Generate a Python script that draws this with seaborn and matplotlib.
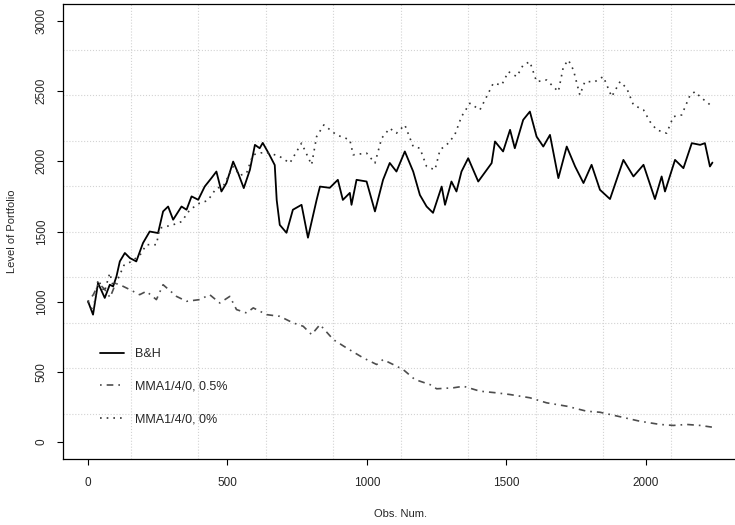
import matplotlib

matplotlib.use("Agg")
import matplotlib.pyplot as plt
import numpy as np
import pandas as pd
import seaborn as sns

# buy & hold portfolio level
bh_obs = [1, 19, 37, 61, 79, 91, 103, 115, 133, 151, 174, 198, 222, 252, 270, 288, 306, 336,
          354, 372, 396, 419, 443, 461, 479, 497, 521, 539, 559, 581, 599, 616, 627, 650, 670,
          677, 688, 712, 735, 766, 789, 820, 832, 867, 896, 914, 939, 945, 963, 999, 1029,
          1058, 1082, 1106, 1136, 1166, 1190, 1214, 1237, 1268, 1280, 1303, 1321, 1339, 1363,
          1399, 1447, 1459, 1488, 1513, 1530, 1560, 1584, 1608, 1632, 1656, 1686, 1716, 1746,
          1776, 1805, 1835, 1871, 1919, 1955, 1991, 2032, 2056, 2068, 2104, 2134, 2164, 2194,
          2211, 2229, 2238]
bh_val = [1003, 908, 1133, 1027, 1121, 1109, 1180, 1287, 1347, 1311, 1287, 1418, 1500, 1489,
          1643, 1678, 1584, 1678, 1655, 1750, 1726, 1820, 1880, 1927, 1785, 1845, 1998, 1915,
          1809, 1939, 2117, 2093, 2131, 2050, 1973, 1724, 1547, 1491, 1655, 1690, 1456, 1725,
          1820, 1811, 1868, 1725, 1775, 1690, 1868, 1856, 1643, 1868, 1988, 1927, 2070, 1927,
          1760, 1678, 1633, 1820, 1690, 1856, 1785, 1927, 2022, 1856, 1987, 2141, 2070, 2224,
          2093, 2295, 2354, 2176, 2105, 2188, 1880, 2105, 1963, 1845, 1975, 1797, 1731, 2010,
          1892, 1975, 1731, 1892, 1785, 2010, 1951, 2129, 2117, 2129, 1963, 1991]

# MMA1/4/0 with 0.5% costs
mma05_obs = [1, 20, 40, 60, 80, 100, 115, 151, 186, 210, 246, 270, 318, 354, 401, 437, 473,
             509, 533, 569, 593, 641, 688, 736, 772, 802, 832, 880, 927, 987, 1035, 1058, 1094,
             1130, 1172, 1226, 1250, 1310, 1346, 1405, 1465, 1513, 1584, 1644, 1716, 1788, 1835,
             1907, 1978, 2050, 2098, 2146, 2194, 2236]
mma05_val = [1000, 1050, 1130, 1090, 1030, 1130, 1121, 1086, 1050, 1074, 1015, 1121, 1038,
             1003, 1015, 1050, 991, 1038, 944, 920, 956, 908, 896, 849, 825, 766, 837, 730, 671,
             600, 553, 588, 553, 517, 446, 410, 380, 387, 398, 363, 351, 339, 316, 280, 256, 220,
             213, 181, 149, 126, 119, 126, 119, 107]

# MMA1/4/0 without costs
mma0_obs = [1, 19, 37, 60, 79, 91, 110, 130, 160, 190, 210, 246, 258, 306, 336, 366, 401, 430,
            461, 485, 521, 545, 569, 592, 620, 652, 688, 724, 766, 802, 820, 846, 891, 939, 951,
            999, 1029, 1053, 1082, 1106, 1136, 1166, 1190, 1214, 1244, 1262, 1292, 1315, 1339,
            1369, 1405, 1429, 1453, 1483, 1507, 1537, 1560, 1584, 1608, 1644, 1686, 1704, 1722,
            1740, 1763, 1781, 1817, 1847, 1877, 1907, 1931, 1955, 1991, 2014, 2038, 2074, 2098,
            2128, 2158, 2176, 2199, 2217, 2236]
mma0_val = [1000, 930, 1157, 1070, 1204, 1109, 1170, 1260, 1290, 1340, 1406, 1406, 1524, 1548,
            1570, 1655, 1702, 1720, 1809, 1820, 1963, 1900, 1915, 2046, 2060, 2058, 2034, 1987,
            2129, 1975, 2176, 2259, 2188, 2153, 2046, 2058, 1987, 2164, 2235, 2200, 2259, 2105,
            2093, 1963, 1939, 2081, 2129, 2188, 2318, 2413, 2366, 2460, 2556, 2543, 2638, 2603,
            2686, 2709, 2567, 2579, 2496, 2674, 2721, 2650, 2472, 2567, 2567, 2603, 2460, 2567,
            2520, 2401, 2366, 2283, 2224, 2200, 2318, 2330, 2472, 2496, 2449, 2425, 2389]

labels = ["B&H", "MMA1/4/0, 0.5%", "MMA1/4/0, 0%"]
x_ticks = [0, 500, 1000, 1500, 2000]
y_ticks = [0, 500, 1000, 1500, 2000, 2500, 3000]

sns.set_style("white")
plt.rcParams["font.family"] = ["Liberation Sans", "DejaVu Sans"]

fig = plt.figure(figsize=(7.35, 5.25), dpi=100)
ax = fig.add_axes([63 / 735, 66 / 525, 675 / 735, 455 / 525])

bh = pd.DataFrame({"obs": bh_obs, "level": bh_val})
m05 = pd.DataFrame({"obs": mma05_obs, "level": mma05_val})
m0 = pd.DataFrame({"obs": mma0_obs, "level": mma0_val})

sns.lineplot(data=bh, x="obs", y="level", ax=ax, color="black", lw=1.3,
             estimator=None, label=labels[0])
sns.lineplot(data=m05, x="obs", y="level", ax=ax, color="#4d4d4d", lw=1.2,
             estimator=None, label=labels[1])
sns.lineplot(data=m0, x="obs", y="level", ax=ax, color="#333333", lw=1.2,
             estimator=None, label=labels[2])
ax.lines[1].set_dashes([1, 3, 4, 3])
ax.lines[2].set_dashes([1, 3])

# R style limits: data range padded by 4%
xmin, xmax = 1 - 0.04 * 2239, 2240 + 0.04 * 2239
ymin, ymax = -120, 3120
ax.set_xlim(xmin, xmax)
ax.set_ylim(ymin, ymax)

# grid(10, 10): lines split the plot region evenly, not at the ticks
for gx in np.linspace(xmin, xmax, 11)[1:-1]:
    ax.axvline(gx, color="lightgray", ls=":", lw=0.8, zorder=0)
for gy in np.linspace(ymin, ymax, 11)[1:-1]:
    ax.axhline(gy, color="lightgray", ls=":", lw=0.8, zorder=0)

ax.set_xticks(x_ticks)
ax.set_yticks(y_ticks)
ax.set_xticklabels([str(v) for v in x_ticks], fontsize=8.5)
ax.set_yticklabels([str(v) for v in y_ticks], fontsize=8.5, rotation=90, va="center")
ax.tick_params(axis="both", direction="out", length=4, width=0.8, color="black",
               bottom=True, left=True)
ax.tick_params(axis="x", pad=9)
ax.tick_params(axis="y", pad=7)

for side in ["left", "bottom", "top"]:
    ax.spines[side].set_color("black")
    ax.spines[side].set_linewidth(0.9)
# the box's right side falls just past the picture edge
ax.spines["right"].set_visible(False)

ax.set_xlabel("Obs. Num.", fontsize=8)
ax.set_ylabel("Level of Portfolio", fontsize=8)
ax.xaxis.set_label_coords(0.5, -55 / 455)
ax.yaxis.set_label_coords(-51 / 675, 0.5)
ax.xaxis.label.set_va("center")
ax.yaxis.label.set_va("center")

ax.legend(loc="upper left", bbox_to_anchor=(37 / 675, 111 / 455), frameon=False,
          fontsize=9, handlelength=1.9, handletextpad=0.9, labelspacing=1.65,
          borderpad=0, borderaxespad=0)

fig.savefig("out.png", dpi=100)
